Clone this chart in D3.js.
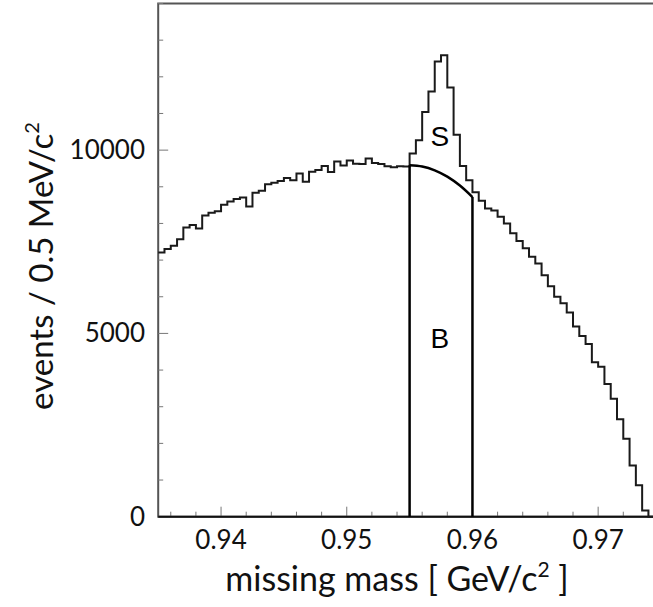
<!DOCTYPE html>
<html>
<head>
<meta charset="utf-8">
<script src="https://cdn.jsdelivr.net/npm/d3@7"></script>
<style>
  body { margin: 0; background: #fff; }
  svg { display: block; }
</style>
</head>
<body>
<div id="chart"></div>
<script>
// histogram of missing mass, 0.5 MeV bins from 0.935 GeV
var binLow = 0.935;
var binWidth = 0.0005;
var counts = [
  7210, 7300, 7390, 7570, 7890, 7960, 7860, 8220, 8290, 8330,
  8510, 8600, 8670, 8710, 8460, 8840, 8890, 9070, 9110, 9160,
  9240, 9180, 9360, 9140, 9410, 9460, 9570, 9400, 9690, 9580,
  9720, 9630, 9620, 9770, 9650, 9620, 9560, 9530, 9560, 9550,
  9910, 10270, 11040, 11600, 12420, 12590, 11710, 10420, 9570, 9180,
  8850, 8620, 8410, 8350, 8180, 8000, 7730, 7520, 7320, 7090,
  6910, 6590, 6290, 6000, 5820, 5570, 5190, 4930, 4710, 4210,
  4090, 3620, 3215, 2660, 2125, 1400, 855, 170, 0, 0
];

// background fit under the peak
var fitMass = [0.955, 0.956, 0.957, 0.958, 0.959, 0.960];
var fitCounts = [9590, 9555, 9450, 9277, 9033, 8720];

var windowEdges = [0.955, 0.960];

var xTicks = [0.94, 0.95, 0.96, 0.97];
var yTicks = [0, 5000, 10000];

var W = 653, H = 607;

var x = d3.scaleLinear().domain([0.935, 0.975]).range([158.2, 661]);
var y = d3.scaleLinear().domain([0, 14000]).range([516.7, 3.5]);

var svg = d3.select("#chart").append("svg")
    .attr("width", W)
    .attr("height", H);

var labelFont = "Lato, 'Open Sans', sans-serif";

// frame
svg.append("rect")
    .attr("x", x(0.935))
    .attr("y", y(14000))
    .attr("width", x(0.975) - x(0.935))
    .attr("height", y(0) - y(14000))
    .attr("fill", "none")
    .attr("stroke", "#555")
    .attr("stroke-width", 2);

// minor + major ticks, pointing inward
var xMinor = d3.range(0, 21).map(function(i) { return 0.936 + i * 0.002; });
svg.append("g").selectAll("line")
    .data(xMinor)
    .enter().append("line")
    .attr("x1", function(d) { return x(d); })
    .attr("x2", function(d) { return x(d); })
    .attr("y1", y(0))
    .attr("y2", function(d) {
        var major = Math.abs(Math.round(d * 100) / 100 - d) < 1e-6;
        return y(0) - (major ? 10 : 5);
    })
    .attr("stroke", "#777")
    .attr("stroke-width", 1);

var yMinor = d3.range(0, 15).map(function(i) { return i * 1000; });
svg.append("g").selectAll("line")
    .data(yMinor)
    .enter().append("line")
    .attr("x1", x(0.935))
    .attr("x2", function(d) { return x(0.935) + (d % 5000 === 0 ? 10 : 5); })
    .attr("y1", function(d) { return y(d); })
    .attr("y2", function(d) { return y(d); })
    .attr("stroke", "#777")
    .attr("stroke-width", 1);

// bottom axis line
svg.append("line")
    .attr("x1", x(0.935))
    .attr("x2", W)
    .attr("y1", y(0))
    .attr("y2", y(0))
    .attr("stroke", "#111")
    .attr("stroke-width", 2);

// tick labels
svg.append("g").selectAll("text")
    .data(xTicks)
    .enter().append("text")
    .attr("x", function(d) { return x(d); })
    .attr("y", 549)
    .attr("text-anchor", "middle")
    .style("font-family", labelFont)
    .style("font-size", "26px")
    .attr("fill", "#111")
    .text(function(d) { return d3.format(".2f")(d); });

svg.append("g").selectAll("text")
    .data(yTicks)
    .enter().append("text")
    .attr("x", 145)
    .attr("y", function(d) { return y(d) + 9; })
    .attr("text-anchor", "end")
    .style("font-family", labelFont)
    .style("font-size", "26px")
    .attr("fill", "#111")
    .text(function(d) { return d; });

// histogram as a step line
var pts = counts.map(function(c, i) { return [binLow + i * binWidth, c]; });
pts.push([binLow + counts.length * binWidth, counts[counts.length - 1]]);

var step = d3.line()
    .x(function(d) { return x(d[0]); })
    .y(function(d) { return y(d[1]); })
    .curve(d3.curveStepAfter);

svg.append("path")
    .datum(pts)
    .attr("d", step)
    .attr("fill", "none")
    .attr("stroke", "#1a1a1a")
    .attr("stroke-width", 2);

// background fit curve
var fitLine = d3.line()
    .x(function(d, i) { return x(fitMass[i]); })
    .y(function(d) { return y(d); })
    .curve(d3.curveMonotoneX);

svg.append("path")
    .datum(fitCounts)
    .attr("d", fitLine)
    .attr("fill", "none")
    .attr("stroke", "#000")
    .attr("stroke-width", 2.5);

// signal window edges
svg.append("g").selectAll("line")
    .data(windowEdges)
    .enter().append("line")
    .attr("x1", function(d) { return x(d); })
    .attr("x2", function(d) { return x(d); })
    .attr("y1", y(0))
    .attr("y2", function(d, i) { return y(i === 0 ? fitCounts[0] : fitCounts[fitCounts.length - 1]); })
    .attr("stroke", "#000")
    .attr("stroke-width", 2.5);

// S and B labels
svg.append("text")
    .attr("x", x(0.9574))
    .attr("y", 146)
    .attr("text-anchor", "middle")
    .style("font-family", "'Liberation Sans', Arial, sans-serif")
    .style("font-size", "28px")
    .text("S");

svg.append("text")
    .attr("x", x(0.9574))
    .attr("y", 348)
    .attr("text-anchor", "middle")
    .style("font-family", "'Liberation Sans', Arial, sans-serif")
    .style("font-size", "28px")
    .text("B");

// axis titles
var xt = svg.append("text")
    .attr("x", 397)
    .attr("y", 591)
    .attr("text-anchor", "middle")
    .style("font-family", labelFont)
    .style("font-size", "34px")
    .attr("fill", "#111");
xt.append("tspan").text("missing mass [ GeV/c");
xt.append("tspan").attr("dy", -14).style("font-size", "21px").text("2");
xt.append("tspan").attr("dy", 14).text(" ]");

var yt = svg.append("text")
    .attr("transform", "translate(53,266) rotate(-90)")
    .attr("text-anchor", "middle")
    .style("font-family", labelFont)
    .style("font-size", "33px")
    .attr("fill", "#111");
yt.append("tspan").text("events / 0.5 MeV/c");
yt.append("tspan").attr("dy", -14).style("font-size", "20px").text("2");
</script>
</body>
</html>
